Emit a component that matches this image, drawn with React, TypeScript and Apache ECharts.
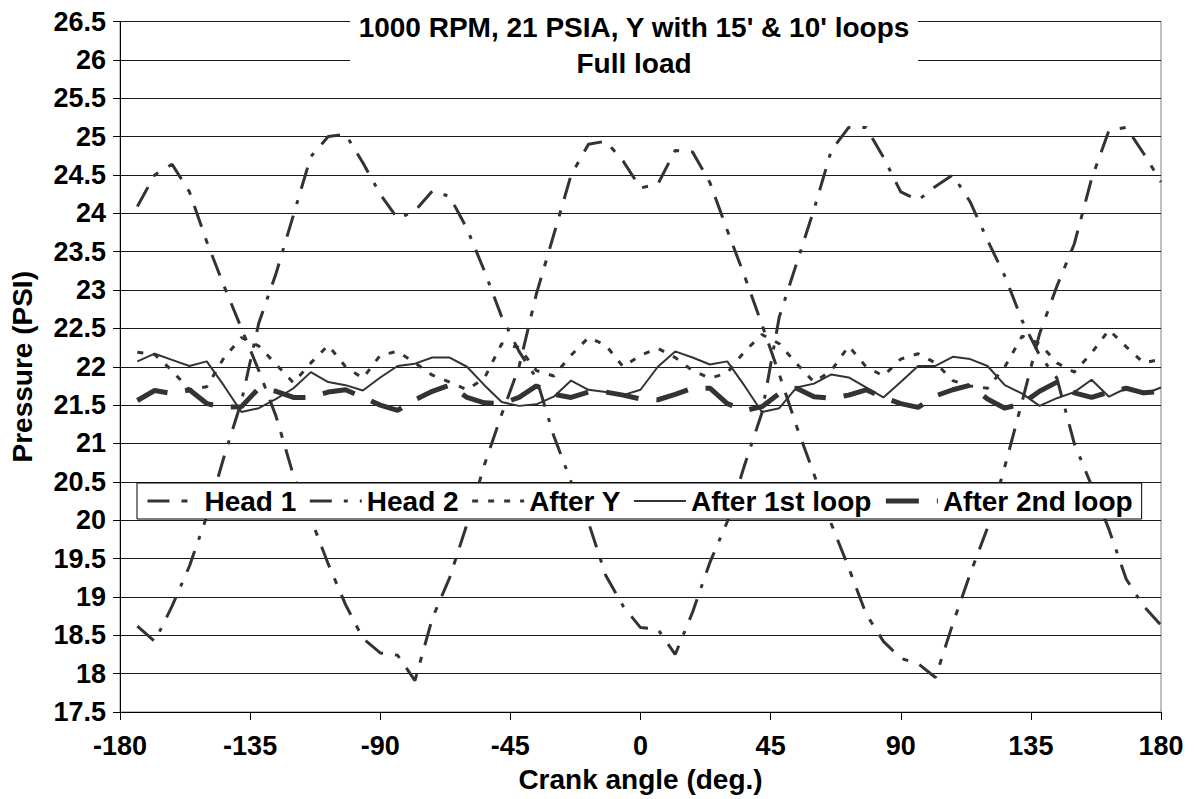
import React, { useEffect, useRef } from "react";
import * as echarts from "echarts";

const angles = [
  -174, -168, -162, -156, -150, -144, -138, -132, -126, -120,
  -114, -108, -102, -96, -90, -84, -78, -72, -66, -60,
  -54, -48, -42, -36, -30, -24, -18, -12, -6, 0,
  6, 12, 18, 24, 30, 36, 42, 48, 54, 60,
  66, 72, 78, 84, 90, 96, 102, 108, 114, 120,
  126, 132, 138, 144, 150, 156, 162, 168, 174, 180,
];

const head1 = [
  24.09, 24.5, 24.64, 24.28, 23.63, 23.05, 22.5, 21.95, 21.35, 20.58,
  20.02, 19.43, 18.9, 18.46, 18.27, 18.24, 17.91, 18.72, 19.25, 19.95,
  20.72, 21.38, 22.0, 22.95, 23.72, 24.5, 24.9, 24.94, 24.68, 24.33,
  24.38, 24.82, 24.8, 24.4, 23.78, 23.18, 22.55, 21.9, 21.22, 20.6,
  19.95, 19.38, 18.78, 18.42, 18.2, 18.13, 17.95, 18.65, 19.3, 19.9,
  20.7, 21.55, 22.43, 23.05, 23.6, 24.45, 25.08, 25.12, 24.78, 24.41,
];

const head2 = [
  18.62, 18.42, 18.88, 19.4, 20.05, 20.83, 21.55, 22.57, 23.22, 23.98,
  24.74, 25.0, 25.03, 24.66, 24.25, 23.93, 24.03, 24.29, 24.22, 23.8,
  23.25, 22.65, 22.2, 21.85, 21.1, 20.5, 19.97, 19.28, 18.88, 18.6,
  18.58, 18.25, 18.8, 19.45, 19.98, 20.72, 21.4, 22.65, 23.35, 24.05,
  24.82, 25.12, 25.12, 24.73, 24.28, 24.17, 24.35, 24.5, 24.15, 23.65,
  23.18, 22.6, 22.15, 21.85, 21.0, 20.45, 19.88, 19.23, 18.88, 18.63,
];

const afterY = [
  22.19, 22.16, 21.95, 21.7, 21.74, 22.12, 22.38, 22.27, 22.03, 21.79,
  22.05, 22.28, 22.0, 21.85, 22.15, 22.2, 22.05, 21.89, 21.8, 21.7,
  21.85, 22.3, 22.25, 21.95, 21.88, 22.15, 22.38, 22.28, 22.0, 22.15,
  22.24, 22.12, 21.95, 21.85, 21.92, 22.2, 22.42, 22.3, 22.04, 21.8,
  21.95, 22.27, 22.0, 21.88, 22.1, 22.17, 22.05, 21.82, 21.75, 21.72,
  22.0, 22.4, 22.3, 22.05, 21.93, 22.18, 22.48, 22.26, 22.05, 22.1,
];

const afterLoop1 = [
  22.07, 22.17, 22.09, 22.01, 22.07, 21.75, 21.41, 21.46, 21.58, 21.72,
  21.93, 21.8, 21.76, 21.69, 21.86, 22.01, 22.04, 22.12, 22.12, 22.0,
  21.76, 21.54, 21.49, 21.51, 21.61, 21.82, 21.7, 21.67, 21.63, 21.7,
  22.0, 22.2, 22.12, 22.03, 22.07, 21.75, 21.41, 21.46, 21.73, 21.78,
  21.9, 21.86, 21.73, 21.6, 21.8, 22.01, 22.01, 22.13, 22.1, 22.01,
  21.76, 21.65, 21.49, 21.59, 21.67, 21.83, 21.61, 21.72, 21.64, 21.73,
];

const afterLoop2 = [
  21.56, 21.69, 21.65, 21.7, 21.52, 21.47, 21.48, 21.72, 21.68, 21.6,
  21.6, 21.67, 21.7, 21.6, 21.5, 21.43, 21.57, 21.68, 21.76, 21.6,
  21.53, 21.52, 21.6, 21.75, 21.64, 21.6, 21.67, 21.67, 21.63, 21.58,
  21.57, 21.64, 21.72, 21.72, 21.52, 21.43, 21.48, 21.65, 21.72, 21.61,
  21.59, 21.63, 21.7, 21.6, 21.52, 21.47, 21.62, 21.7, 21.76, 21.58,
  21.46, 21.52, 21.68, 21.8, 21.66, 21.6, 21.67, 21.72, 21.66, 21.68,
];

const seriesNames = ["Head 1", "Head 2", "After Y", "After 1st loop", "After 2nd loop"];
const titleLines = ["1000 RPM, 21 PSIA, Y with 15' & 10' loops", "Full load"];
const xName = "Crank angle (deg.)";
const yName = "Pressure (PSI)";

const FONT = '"Liberation Sans", Arial, sans-serif';
const LINE = "#333333";

function pairs(values: number[]) {
  return angles.map((a, i) => [a, values[i]]);
}

export default function App() {
  const ref = useRef<HTMLDivElement>(null);

  useEffect(() => {
    if (!ref.current) return;
    const chart = echarts.init(ref.current, undefined, { renderer: "svg" });

    const mk = (name: string, values: number[], width: number, type: any) => ({
      name,
      type: "line",
      data: pairs(values),
      symbol: "none",
      showSymbol: false,
      smooth: false,
      lineStyle: { color: LINE, width, type, cap: "butt" },
      itemStyle: { color: LINE },
    });

    chart.setOption({
      animation: false,
      backgroundColor: "#ffffff",
      textStyle: { fontFamily: FONT },
      grid: {
        left: 118,
        right: 33,
        top: 21.5,
        bottom: 87,
        containLabel: false,
        show: true,
        borderColor: "#808080",
        borderWidth: 1,
        backgroundColor: "transparent",
      },
      xAxis: {
        type: "value",
        min: -180,
        max: 180,
        interval: 45,
        name: xName,
        nameLocation: "middle",
        nameGap: 53,
        nameTextStyle: { fontFamily: FONT, fontWeight: "bold", fontSize: 28, color: "#000" },
        axisLine: { show: true, onZero: false, lineStyle: { color: "#000", width: 1 } },
        axisTick: { show: true, inside: false, length: 8, lineStyle: { color: "#000" } },
        axisLabel: { fontFamily: FONT, fontWeight: "bold", fontSize: 27, color: "#000", margin: 20 },
        splitLine: { show: false },
      },
      yAxis: {
        type: "value",
        min: 17.5,
        max: 26.5,
        interval: 0.5,
        name: yName,
        nameLocation: "middle",
        nameGap: 84,
        nameRotate: 90,
        nameTextStyle: { fontFamily: FONT, fontWeight: "bold", fontSize: 28, color: "#000" },
        axisLine: { show: true, onZero: false, lineStyle: { color: "#000", width: 1 } },
        axisTick: { show: true, inside: false, length: 7, lineStyle: { color: "#000" } },
        axisLabel: { fontFamily: FONT, fontWeight: "bold", fontSize: 27, color: "#000", margin: 14 },
        splitLine: { show: true, lineStyle: { color: "#1a1a1a", width: 1 } },
      },
      legend: {
        left: 137,
        top: 483,
        orient: "horizontal",
        padding: [4, 9, 4, 9],
        itemGap: 12,
        itemWidth: 52,
        itemHeight: 14,
        backgroundColor: "#ffffff",
        borderColor: "#000000",
        borderWidth: 1,
        borderRadius: 0,
        itemStyle: { color: "rgba(0,0,0,0)", borderWidth: 0, borderColor: "rgba(0,0,0,0)", opacity: 0 },
        lineStyle: { width: "inherit", type: "inherit", color: "inherit" },
        textStyle: { fontFamily: FONT, fontWeight: "bold", fontSize: 28, color: "#000" },
        data: seriesNames,
      },
      graphic: [
        { type: "rect", z: 100, shape: { x: 350, y: 0, width: 568, height: 80 }, style: { fill: "#ffffff" } },
        {
          type: "text",
          z: 101,
          x: 634,
          y: 27,
          style: {
            text: titleLines[0],
            fontFamily: FONT,
            fontWeight: "bold",
            fontSize: 28,
            fill: "#000",
            textAlign: "center",
            textVerticalAlign: "middle",
          },
        },
        {
          type: "text",
          z: 101,
          x: 634,
          y: 63,
          style: {
            text: titleLines[1],
            fontFamily: FONT,
            fontWeight: "bold",
            fontSize: 28,
            fill: "#000",
            textAlign: "center",
            textVerticalAlign: "middle",
          },
        },
      ],
      series: [
        mk(seriesNames[0], head1, 3, [22, 12, 6, 12]),
        mk(seriesNames[1], head2, 3, [22, 12, 4, 12]),
        mk(seriesNames[2], afterY, 3, [6, 10]),
        mk(seriesNames[3], afterLoop1, 2, "solid"),
        mk(seriesNames[4], afterLoop2, 5, [33, 18]),
      ],
    });

    return () => chart.dispose();
  }, []);

  return (
    <div
      ref={ref}
      style={{ position: "fixed", left: 0, top: 0, width: 1194, height: 799, background: "#fff" }}
    />
  );
}
